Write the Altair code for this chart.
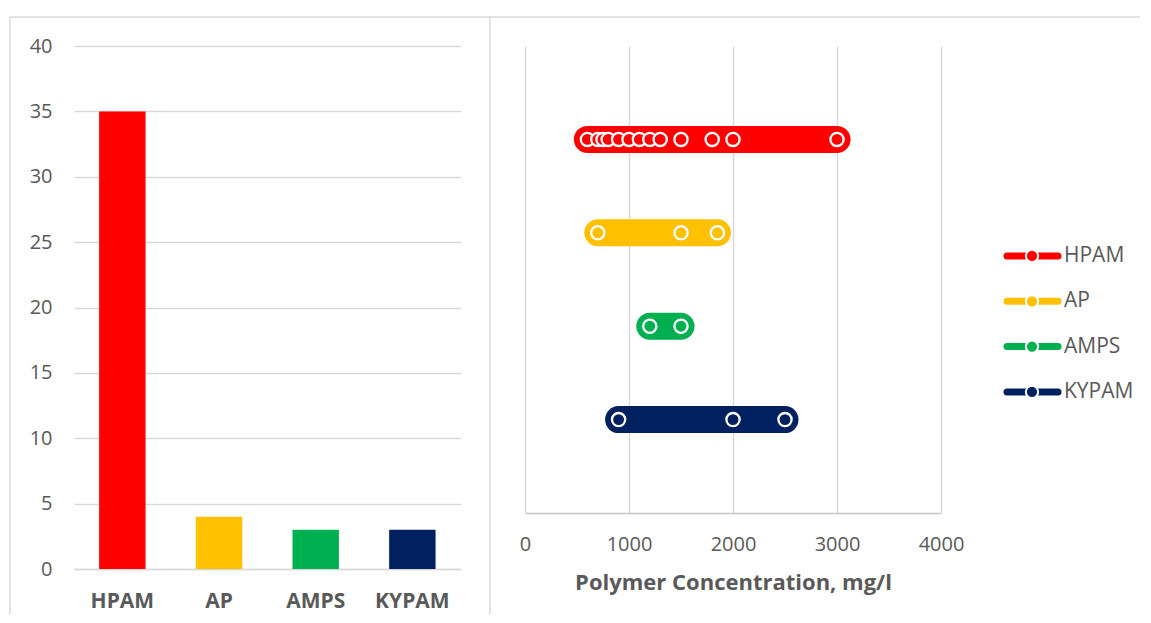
import altair as alt
import pandas as pd

# ---------------- data ----------------
categories = ["HPAM", "AP", "AMPS", "KYPAM"]
colors = ["#FF0000", "#FFC000", "#00B050", "#002060"]
counts = [35, 4, 3, 3]

hpam_conc = [600, 700, 750, 800, 900, 1000, 1100, 1200, 1300, 1500, 1800, 2000, 3000]
ap_conc = [700, 1500, 1850]
amps_conc = [1200, 1500]
kypam_conc = [900, 2000, 2500]
row_level = [4, 3, 2, 1]          # row of each polymer in the range panel

count_ticks = [0, 5, 10, 15, 20, 25, 30, 35, 40]
conc_ticks = [0, 1000, 2000, 3000, 4000]
x_title = "Polymer Concentration, mg/l"

# ---------------- styling ----------------
FONT = "Open Sans"
TEXT = "#595959"
GRID = "#d9d9d9"

bar_df = pd.DataFrame({"polymer": categories, "count": counts})
conc_lists = [hpam_conc, ap_conc, amps_conc, kypam_conc]
rng_df = pd.DataFrame(
    [{"polymer": p, "conc": c, "row": r}
     for p, cs, r in zip(categories, conc_lists, row_level) for c in cs]
)
leg_df = pd.DataFrame({"polymer": categories, "pos": list(range(len(categories)))})
one = pd.DataFrame({"k": [0]})

color_scale = alt.Scale(domain=categories, range=colors)

# ---------------- left panel: bar chart ----------------
bars = alt.Chart(bar_df).mark_bar().encode(
    x=alt.X("polymer:N", sort=categories,
            scale=alt.Scale(paddingInner=0.52, paddingOuter=0.26),
            axis=alt.Axis(title=None, labelAngle=0, labelFontWeight="bold",
                          labelFontSize=21, labelColor=TEXT, labelPadding=21,
                          ticks=False, domain=True, domainColor=GRID,
                          domainWidth=1.5, grid=False)),
    y=alt.Y("count:Q", scale=alt.Scale(domain=[0, 40], nice=False),
            axis=alt.Axis(title=None, values=count_ticks, grid=True,
                          gridColor=GRID, gridWidth=1.5, domain=False,
                          ticks=False, labelPadding=22, labelFontSize=20,
                          labelColor=TEXT)),
    color=alt.Color("polymer:N", scale=color_scale, legend=None),
)
frame_top = alt.Chart(one).mark_rule(color=GRID, strokeWidth=1.5).encode(
    x=alt.value(-64), x2=alt.value(1066), y=alt.value(-29))
frame_left = alt.Chart(one).mark_rule(color=GRID, strokeWidth=1.5).encode(
    x=alt.value(-64), y=alt.value(-29), y2=alt.value(568))
left = alt.layer(frame_top, frame_left, bars).properties(width=386.7, height=523)

# ---------------- right panel: concentration ranges ----------------
xenc = alt.X("conc:Q", scale=alt.Scale(domain=[0, 4000], nice=False),
             axis=alt.Axis(title=x_title, values=conc_ticks, format="d", grid=True,
                           gridColor=GRID, gridWidth=1.5, domain=True,
                           domainColor="#c8c8c8", domainWidth=1.5, ticks=False,
                           labelFlush=False,
                           labelFontSize=20, labelColor=TEXT, labelPadding=21,
                           titleFontSize=22, titleFontWeight="bold",
                           titleColor=TEXT, titlePadding=18))
yenc = alt.Y("row:Q", scale=alt.Scale(domain=[0, 5], nice=False), axis=None)

lines = alt.Chart(rng_df).mark_line(strokeWidth=27, strokeCap="round").encode(
    x=xenc, y=yenc,
    color=alt.Color("polymer:N", scale=color_scale, legend=None),
    detail="polymer:N")
dots = alt.Chart(rng_df).mark_circle(size=175, stroke="white", strokeWidth=2.3,
                                      opacity=1).encode(
    x=xenc, y=yenc,
    color=alt.Color("polymer:N", scale=color_scale, legend=None))
divider = alt.Chart(one).mark_rule(color=GRID, strokeWidth=1.5).encode(
    x=alt.value(-35), y=alt.value(-29), y2=alt.value(568))
right = alt.layer(divider, lines, dots).properties(width=416, height=467)

# ---------------- legend panel ----------------
ly = alt.Y("pos:Q", scale=alt.Scale(domain=[-4.63, 5.67], reverse=True, nice=False,
                                     zero=False), axis=None)
leg_line = alt.Chart(leg_df).mark_rule(strokeWidth=7, strokeCap="round").encode(
    x=alt.value(2), x2=alt.value(53), y=ly,
    color=alt.Color("polymer:N", scale=color_scale, legend=None))
leg_dot = alt.Chart(leg_df).mark_circle(size=150, stroke="white", strokeWidth=2,
                                         opacity=1).encode(
    x=alt.value(27), y=ly,
    color=alt.Color("polymer:N", scale=color_scale, legend=None))
leg_text = alt.Chart(leg_df).mark_text(align="left", baseline="middle",
                                       fontSize=21, color=TEXT).encode(
    x=alt.value(59), y=ly, text="polymer:N")
legend = alt.layer(leg_line, leg_dot, leg_text).properties(width=130, height=467)

chart = alt.hconcat(left, right, legend, spacing=64, bounds="flush").properties(
    padding={"left": 1, "top": 8, "right": 0, "bottom": 0}
).configure(font=FONT).configure_view(stroke="transparent", strokeWidth=0)

chart.save("out.html", embed_options={"renderer": "svg", "actions": False})
